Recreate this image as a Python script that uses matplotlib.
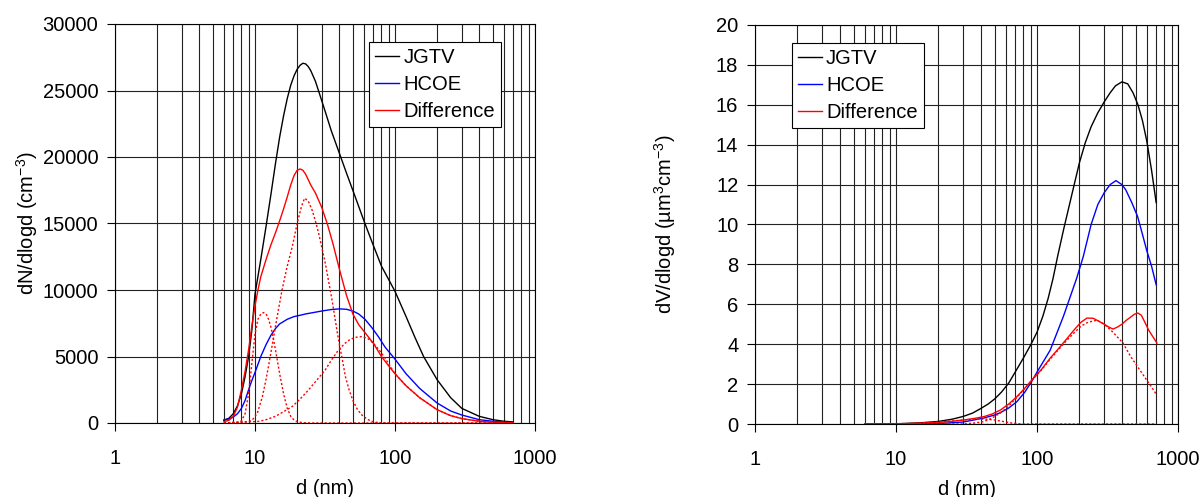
import numpy as np
import matplotlib
matplotlib.use("Agg")
import matplotlib.pyplot as plt
from matplotlib.ticker import FixedLocator, NullFormatter, NullLocator

plt.rcParams['font.family'] = ['Liberation Sans', 'DejaVu Sans']
plt.rcParams['mathtext.default'] = 'regular'

# ---- number distribution (left) ----
d_jgtv_n = [6, 6.5, 7, 7.5, 8, 8.5, 9, 9.5, 10, 11, 12, 13, 14, 15, 16, 17, 18, 19, 20, 21, 22, 23, 24, 25, 27, 29,
            32, 35, 40, 45, 52, 60, 68, 80, 100, 120, 138, 160, 200, 250, 300, 400, 500, 600, 700]
n_jgtv = [200, 350, 700, 1300, 2200, 3500, 5000, 7000, 9700, 12300, 14800, 17200, 19500, 21500, 23100, 24400, 25400,
          26100, 26600, 26900, 27050, 27000, 26800, 26500, 25700, 24700, 23300, 22000, 20300, 18800, 17000, 15200,
          13700, 11800, 9900, 8000, 6500, 5000, 3250, 1900, 1100, 500, 250, 130, 80]

d_hcoe_n = [6, 6.5, 7, 7.5, 8, 8.5, 9, 9.5, 10, 11, 12, 13, 14, 15, 17, 19, 21, 23, 26, 30, 35, 40, 45, 50, 55, 61,
            68, 76, 85, 100, 120, 150, 200, 250, 300, 400, 500, 600, 700]
n_hcoe = [250, 300, 450, 700, 1100, 1700, 2500, 3200, 3800, 5000, 5900, 6600, 7100, 7450, 7800, 8000, 8100, 8200,
          8300, 8420, 8530, 8580, 8550, 8420, 8200, 7800, 7200, 6500, 5700, 4800, 3700, 2600, 1500, 900, 600, 250,
          130, 70, 40]

d_diff_n = [6, 6.5, 7, 7.5, 8, 8.5, 9, 9.5, 10, 10.5, 11, 12, 13, 14, 15, 16, 17, 18, 19, 20, 21, 22, 23, 24, 25, 27,
            30, 33, 36, 40, 45, 50, 55, 61, 70, 80, 90, 100, 120, 150, 200, 250, 300, 400, 500, 700]
n_diff = [100, 200, 500, 1200, 2500, 3900, 5500, 7300, 8800, 10000, 11000, 12300, 13400, 14300, 15200, 16100, 17000,
          17900, 18600, 19000, 19100, 19000, 18700, 18300, 17900, 17300, 16200, 14900, 13500, 11600, 9600, 8200, 7400,
          6800, 6000, 5000, 4300, 3700, 2800, 1900, 1000, 550, 330, 130, 60, 15]

d_mode1_n = [6, 7.5, 8, 8.5, 9, 9.5, 10, 10.5, 11, 11.5, 12, 12.5, 13, 13.5, 14, 14.5, 15, 16, 17, 18, 19, 20, 22,
             25, 700]
n_mode1 = [0, 50, 150, 700, 2200, 4500, 6700, 7800, 8200, 8300, 8200, 7800, 7200, 6400, 5500, 4600, 3700, 2200, 1100,
           500, 220, 100, 20, 0, 0]

d_mode2_n = [6, 9, 9.6, 10.4, 11.3, 12, 12.6, 13.5, 14.4, 15.6, 17, 18.5, 20, 21.5, 22.6, 24, 25.6, 27, 28.5, 30,
             31.8, 33.5, 35.5, 37.5, 39.5, 42, 44.2, 47, 50, 54, 58, 63, 68, 75, 85, 700]
n_mode2 = [0, 100, 250, 750, 2000, 3300, 4500, 6300, 8000, 10000, 11800, 13300, 15000, 16300, 16900, 16700, 16000,
           15200, 14250, 13200, 12000, 10700, 9250, 7700, 6250, 4800, 3500, 2500, 1700, 1000, 600, 300, 125, 40, 0, 0]

d_mode3_n = [6, 10.7, 12, 14, 16, 18.5, 21, 24.2, 28, 31.8, 35, 39.5, 44, 48, 53, 58, 64, 70, 77, 84, 92, 100, 120,
             150, 200, 250, 300, 400, 500, 700]
n_mode3 = [0, 125, 250, 500, 850, 1250, 1800, 2500, 3300, 4000, 4700, 5500, 6000, 6300, 6450, 6500, 6350, 6000, 5500,
           4950, 4300, 3700, 2800, 1900, 1000, 550, 330, 130, 60, 15]

# ---- volume distribution (right) ----
d_jgtv_v = [6, 10, 15, 20, 25, 30, 35, 40, 45, 50, 56, 63, 70, 80, 90, 100, 110, 120, 130, 140, 155, 170, 185, 200,
            220, 242, 270, 300, 330, 360, 400, 440, 480, 520, 560, 600, 650, 700]
v_jgtv = [0, 0.01, 0.06, 0.13, 0.24, 0.38, 0.55, 0.78, 1.0, 1.25, 1.6, 2.05, 2.6, 3.3, 3.95, 4.6, 5.4, 6.3, 7.3, 8.4,
          9.8, 11.0, 12.1, 13.1, 14.1, 14.9, 15.6, 16.15, 16.6, 16.95, 17.15, 17.05, 16.6, 16.0, 15.2, 14.2, 12.7, 11.1]

d_hcoe_v = [6, 10, 20, 30, 42, 50, 55, 63, 72, 82, 92, 100, 124, 154, 191, 213, 242, 270, 300, 330, 363, 400, 426,
            470, 517, 560, 600, 650, 700]
v_hcoe = [0, 0, 0.02, 0.1, 0.3, 0.45, 0.57, 0.8, 1.12, 1.6, 2.15, 2.6, 3.7, 5.4, 7.3, 8.4, 10.0, 11.0, 11.6, 12.0,
          12.2, 12.0, 11.74, 11.1, 10.4, 9.5, 8.7, 7.9, 6.98]

d_diff_v = [6, 10, 14, 20, 24, 30, 36, 42, 48, 55, 63, 72, 82, 94, 108, 124, 143, 163, 185, 205, 226, 250, 275, 300,
            325, 346, 370, 400, 430, 460, 490, 520, 550, 586, 620, 660, 709]
v_diff = [0, 0, 0.03, 0.08, 0.12, 0.2, 0.28, 0.37, 0.5, 0.7, 1.0, 1.37, 1.8, 2.28, 2.75, 3.3, 3.8, 4.28, 4.75, 5.1,
          5.31, 5.3, 5.15, 5.0, 4.85, 4.76, 4.85, 5.0, 5.2, 5.35, 5.5, 5.56, 5.45, 5.06, 4.7, 4.4, 4.06]

d_modeA_v = [6, 10, 15, 20, 25, 30, 36, 42, 50, 58, 66, 75, 85, 700]
v_modeA = [0, 0.01, 0.05, 0.1, 0.15, 0.2, 0.23, 0.25, 0.2, 0.12, 0.05, 0.01, 0, 0]

d_modeB_v = [6, 700]
v_modeB = [0, 0]

d_modeC_v = [6, 30, 36, 42, 48, 55, 63, 72, 82, 94, 108, 124, 143, 163, 185, 205, 230, 266, 300, 346, 407, 460, 537,
             600, 650, 700]
v_modeC = [0, 0, 0.05, 0.12, 0.3, 0.55, 0.9, 1.33, 1.78, 2.27, 2.72, 3.25, 3.75, 4.2, 4.6, 4.9, 5.1, 5.2, 5.0, 4.6,
           4.06, 3.4, 2.7, 2.2, 1.85, 1.5]

xticks = [1, 10, 100, 1000]
xtick_labels = ['1', '10', '100', '1000']
minor_x = [m * 10 ** k for k in range(3) for m in range(2, 10)]

FS = 14.5
DOT = (0, (1.5, 1.5))

fig = plt.figure(figsize=(12.03, 4.97), dpi=100)
ax1 = fig.add_axes([115 / 1203, 74 / 497, 420 / 1203, 399 / 497])
ax2 = fig.add_axes([755 / 1203, 73 / 497, 423 / 1203, 399 / 497])


def style(ax, ymax, ystep, xlabelpad):
    ax.set_xscale('log')
    ax.set_xlim(1, 1000)
    ax.set_ylim(0, ymax)
    ax.xaxis.set_major_locator(FixedLocator(xticks))
    ax.set_xticklabels(xtick_labels)
    ax.xaxis.set_minor_locator(NullLocator())
    ax.xaxis.set_minor_formatter(NullFormatter())
    ax.set_yticks(np.arange(0, ymax + ystep, ystep))
    for x in xticks + minor_x:
        ax.axvline(x, color='#222222', lw=0.8, zorder=0)
    for y in np.arange(0, ymax + ystep, ystep):
        ax.axhline(y, color='#222222', lw=0.8, zorder=0)
    ax.tick_params(direction='out', length=6, width=0.8, labelsize=FS, pad=6)
    ax.tick_params(axis='x', pad=13)
    for s in ax.spines.values():
        s.set_linewidth(0.8)
    ax.set_xlabel('d (nm)', fontsize=FS, labelpad=xlabelpad)


style(ax1, 30000, 5000, 8)
style(ax2, 20, 2, 7.5)

ax1.plot(d_jgtv_n, n_jgtv, color='black', lw=1, label='JGTV')
ax1.plot(d_hcoe_n, n_hcoe, color='blue', lw=1, label='HCOE')
ax1.plot(d_diff_n, n_diff, color='red', lw=1, label='Difference')
ax1.plot(d_mode1_n, n_mode1, color='red', lw=1, ls=DOT)
ax1.plot(d_mode2_n, n_mode2, color='red', lw=1, ls=DOT)
ax1.plot(d_mode3_n, n_mode3, color='red', lw=1, ls=DOT)
ax1.set_ylabel('dN/dlogd (cm$^{-3}$)', fontsize=FS, labelpad=2)

ax2.plot(d_jgtv_v, v_jgtv, color='black', lw=1, label='JGTV')
ax2.plot(d_hcoe_v, v_hcoe, color='blue', lw=1, label='HCOE')
ax2.plot(d_diff_v, v_diff, color='red', lw=1, label='Difference')
ax2.plot(d_modeA_v, v_modeA, color='red', lw=1, ls=DOT)
ax2.plot(d_modeB_v, v_modeB, color='red', lw=1, ls=DOT)
ax2.plot(d_modeC_v, v_modeC, color='red', lw=1, ls=DOT)
ax2.set_ylabel('dV/dlogd (µm$^{3}$cm$^{-3}$)', fontsize=FS, labelpad=27)

leg_kw = dict(fontsize=FS, fancybox=False, framealpha=1, edgecolor='black', handlelength=1.2,
              handletextpad=0.2, labelspacing=0.4, borderpad=0.3, borderaxespad=0)
l1 = ax1.legend(loc='upper right', bbox_to_anchor=(0.919, 0.955), **leg_kw)
l2 = ax2.legend(loc='upper left', bbox_to_anchor=(0.087, 0.955), **leg_kw)
for lg in (l1, l2):
    lg.get_frame().set_linewidth(0.8)

fig.savefig('out.png', dpi=100)
